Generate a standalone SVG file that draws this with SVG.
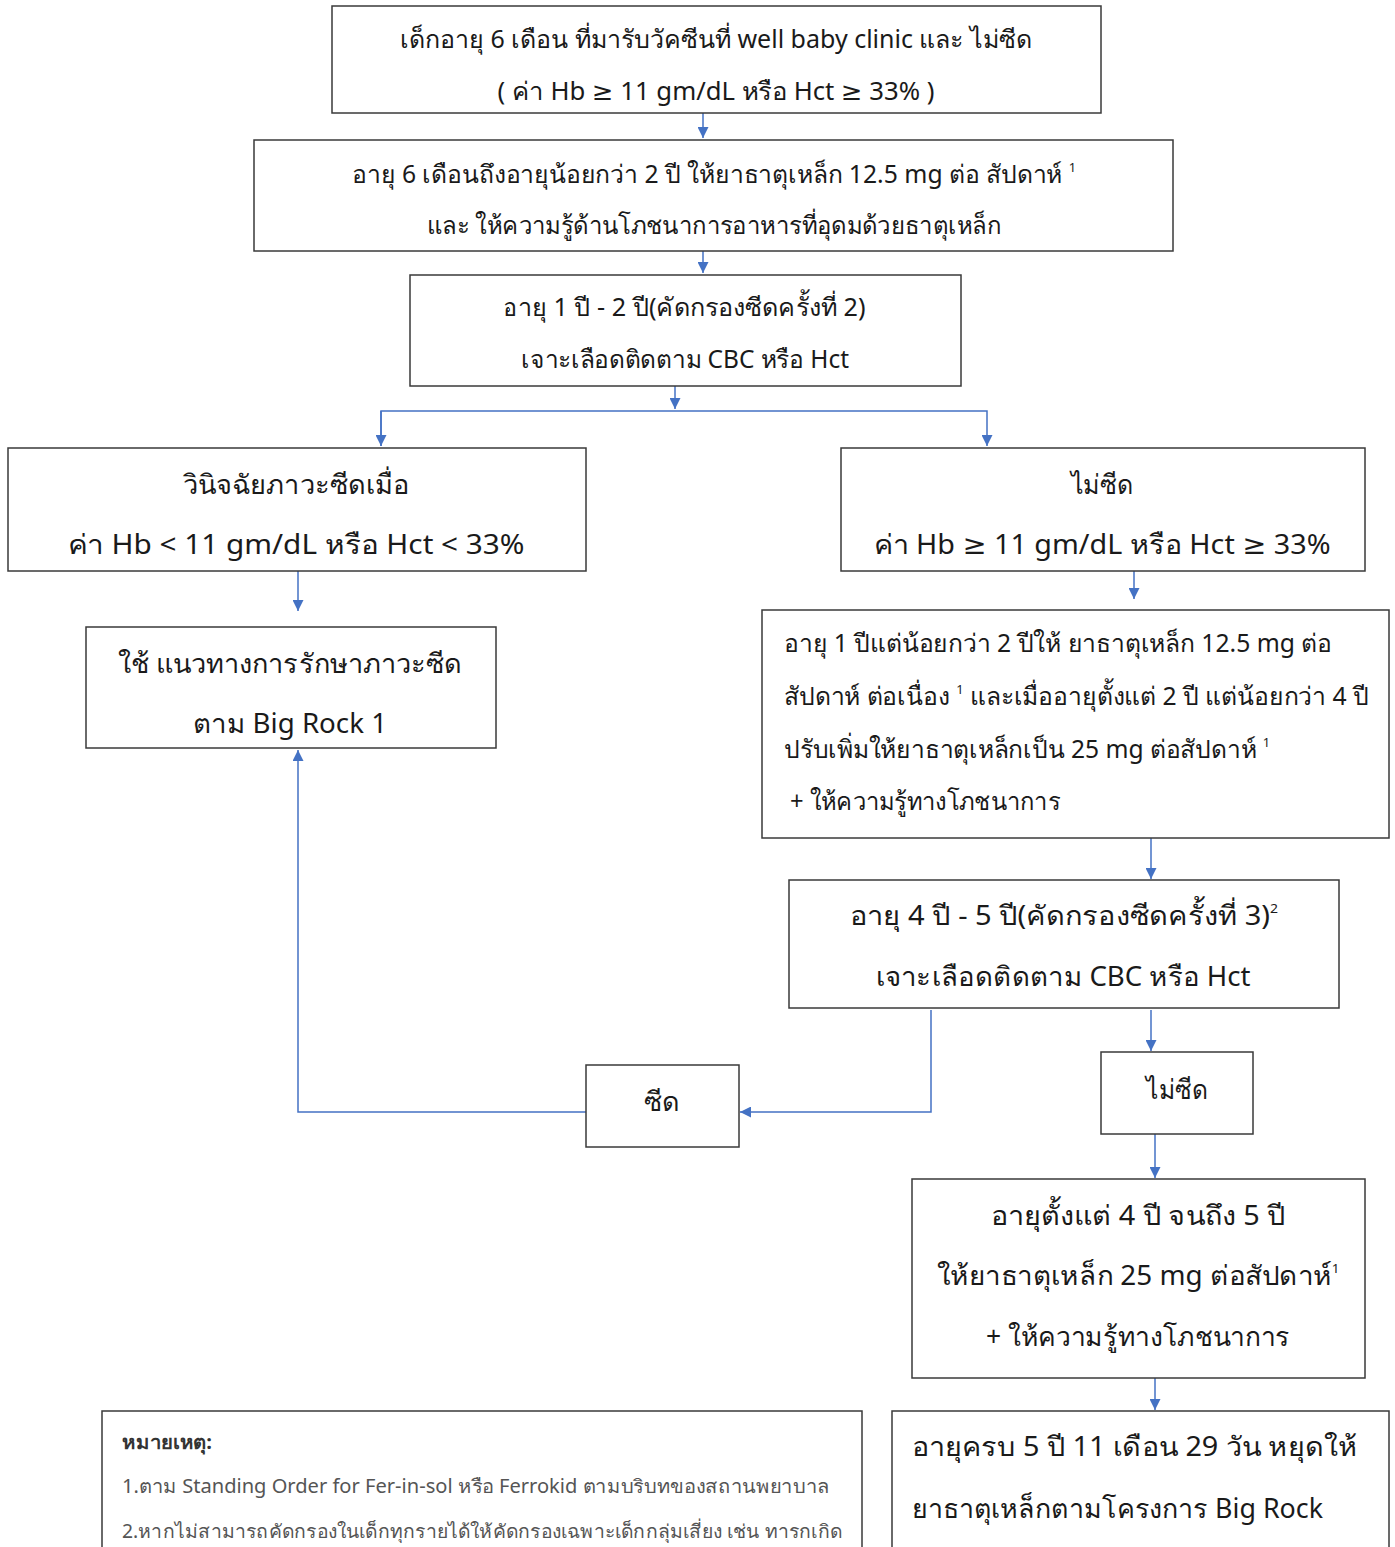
<svg xmlns="http://www.w3.org/2000/svg" width="1395" height="1547" viewBox="0 0 1395 1547">
<defs>
<style>
.box{fill:#fff;stroke:#3a3a3a;stroke-width:1.5}
.t{font-family:"Noto Sans","DejaVu Sans",sans-serif;font-size:25px;fill:#1a1a1a}
.tl{font-family:"Noto Sans","DejaVu Sans",sans-serif;font-size:27px;fill:#1a1a1a}
.c{text-anchor:middle}
.sup{font-size:13px}
.n{font-family:"Noto Sans","DejaVu Sans",sans-serif;font-size:19px;fill:#555}
.nb{font-weight:bold;fill:#333}
.con{fill:none;stroke:#4472C4;stroke-width:1.5}
</style>
<marker id="ah" viewBox="0 0 10 10" refX="10" refY="5" markerWidth="11" markerHeight="11" markerUnits="userSpaceOnUse" orient="auto">
<path d="M0,0 L10,5 L0,10 z" fill="#4472C4"/>
</marker>
</defs>
<rect width="1395" height="1547" fill="#fff"/>
<g id="connectors">
<path class="con" d="M703,113 V138" marker-end="url(#ah)"/>
<path class="con" d="M703,251 V273" marker-end="url(#ah)"/>
<path class="con" d="M675,386 V409" marker-end="url(#ah)"/>
<path class="con" d="M381,446 V411 H987 V446" marker-end="url(#ah)"/>
<path class="con" d="M381,411 V446" marker-end="url(#ah)"/>
<path class="con" d="M298,571 V611" marker-end="url(#ah)"/>
<path class="con" d="M1134,571 V599" marker-end="url(#ah)"/>
<path class="con" d="M1151,838 V879" marker-end="url(#ah)"/>
<path class="con" d="M1151,1010 V1051" marker-end="url(#ah)"/>
<path class="con" d="M931,1010 V1112 H740" marker-end="url(#ah)"/>
<path class="con" d="M586,1112 H298 V750" marker-end="url(#ah)"/>
<path class="con" d="M1155,1134 V1178" marker-end="url(#ah)"/>
<path class="con" d="M1155,1378 V1410" marker-end="url(#ah)"/>
</g>
<g id="n1">
<rect class="box" x="332" y="6" width="769" height="107"/>
<text class="t c" x="716" y="48" textLength="632" lengthAdjust="spacingAndGlyphs">เด็กอายุ 6 เดือน ที่มารับวัคซีนที่ well baby clinic และ ไม่ซีด</text>
<text class="t c" x="716" y="100" textLength="437" lengthAdjust="spacingAndGlyphs">( ค่า Hb ≥ 11 gm/dL หรือ Hct ≥ 33% )</text>
</g>
<g id="n2">
<rect class="box" x="254" y="140" width="919" height="111"/>
<text class="t c" x="714" y="183" textLength="724" lengthAdjust="spacingAndGlyphs">อายุ 6 เดือนถึงอายุน้อยกว่า 2 ปี ให้ยาธาตุเหล็ก 12.5 mg ต่อ สัปดาห์ <tspan class="sup" dy="-11">1</tspan></text>
<text class="t c" x="714" y="234" textLength="574" lengthAdjust="spacingAndGlyphs">และ  ให้ความรู้ด้านโภชนาการอาหารที่อุดมด้วยธาตุเหล็ก</text>
</g>
<g id="n3">
<rect class="box" x="410" y="275" width="551" height="111"/>
<text class="t c" x="684" y="316" textLength="363" lengthAdjust="spacingAndGlyphs">อายุ 1 ปี - 2 ปี(คัดกรองซีดครั้งที่ 2)</text>
<text class="t c" x="685" y="368" textLength="328" lengthAdjust="spacingAndGlyphs">เจาะเลือดติดตาม CBC หรือ Hct</text>
</g>
<g id="n4">
<rect class="box" x="8" y="448" width="578" height="123"/>
<text class="tl c" x="296" y="494" textLength="227" lengthAdjust="spacingAndGlyphs">วินิจฉัยภาวะซีดเมื่อ</text>
<text class="tl c" x="296" y="554" textLength="457" lengthAdjust="spacingAndGlyphs">ค่า Hb &lt; 11 gm/dL หรือ Hct &lt; 33%</text>
</g>
<g id="n5">
<rect class="box" x="841" y="448" width="524" height="123"/>
<text class="tl c" x="1102" y="494" textLength="63" lengthAdjust="spacingAndGlyphs">ไม่ซีด</text>
<text class="tl c" x="1102" y="554" textLength="457" lengthAdjust="spacingAndGlyphs">ค่า Hb ≥ 11 gm/dL หรือ Hct ≥ 33%</text>
</g>
<g id="n6">
<rect class="box" x="86" y="627" width="410" height="121"/>
<text class="tl c" x="290" y="673" textLength="345" lengthAdjust="spacingAndGlyphs">ใช้ แนวทางการรักษาภาวะซีด</text>
<text class="tl c" x="290" y="733" textLength="194" lengthAdjust="spacingAndGlyphs">ตาม Big Rock 1</text>
</g>
<g id="n7">
<rect class="box" x="762" y="610" width="627" height="228"/>
<text class="t" x="784" y="652" textLength="548" lengthAdjust="spacingAndGlyphs">อายุ 1 ปีแต่น้อยกว่า 2 ปีให้ ยาธาตุเหล็ก 12.5 mg ต่อ</text>
<text class="t" x="784" y="705" textLength="585" lengthAdjust="spacingAndGlyphs">สัปดาห์ ต่อเนื่อง <tspan class="sup" dy="-11">1</tspan><tspan dy="11"> และเมื่ออายุตั้งแต่ 2 ปี แต่น้อยกว่า 4 ปี</tspan></text>
<text class="t" x="784" y="758" textLength="486" lengthAdjust="spacingAndGlyphs">ปรับเพิ่มให้ยาธาตุเหล็กเป็น 25 mg ต่อสัปดาห์ <tspan class="sup" dy="-11">1</tspan></text>
<text class="t" x="790" y="810" textLength="270" lengthAdjust="spacingAndGlyphs">+ ให้ความรู้ทางโภชนาการ</text>
</g>
<g id="n8">
<rect class="box" x="789" y="880" width="550" height="128"/>
<text class="tl c" x="1064" y="925" textLength="428" lengthAdjust="spacingAndGlyphs">อายุ 4 ปี - 5 ปี(คัดกรองซีดครั้งที่ 3)<tspan class="sup" dy="-12">2</tspan></text>
<text class="tl c" x="1063" y="986" textLength="375" lengthAdjust="spacingAndGlyphs">เจาะเลือดติดตาม CBC หรือ Hct</text>
</g>
<g id="n9">
<rect class="box" x="1101" y="1052" width="152" height="82"/>
<text class="tl c" x="1177" y="1099" textLength="62" lengthAdjust="spacingAndGlyphs">ไม่ซีด</text>
</g>
<g id="n10">
<rect class="box" x="586" y="1065" width="153" height="82"/>
<text class="tl c" x="662" y="1111" textLength="36" lengthAdjust="spacingAndGlyphs">ซีด</text>
</g>
<g id="n11">
<rect class="box" x="912" y="1179" width="453" height="199"/>
<text class="tl c" x="1138" y="1225" textLength="295" lengthAdjust="spacingAndGlyphs">อายุตั้งแต่ 4 ปี จนถึง 5 ปี</text>
<text class="tl c" x="1138" y="1285" textLength="403" lengthAdjust="spacingAndGlyphs">ให้ยาธาตุเหล็ก 25 mg ต่อสัปดาห์<tspan class="sup" dy="-12">1</tspan></text>
<text class="tl c" x="1138" y="1346" textLength="304" lengthAdjust="spacingAndGlyphs">+ ให้ความรู้ทางโภชนาการ</text>
</g>
<g id="n12">
<rect class="box" x="892" y="1411" width="497" height="150"/>
<text class="tl" x="912" y="1456" textLength="445" lengthAdjust="spacingAndGlyphs">อายุครบ 5 ปี 11 เดือน 29 วัน หยุดให้</text>
<text class="tl" x="912" y="1518" textLength="411" lengthAdjust="spacingAndGlyphs">ยาธาตุเหล็กตามโครงการ Big Rock</text>
</g>
<g id="notes">
<rect class="box" x="102" y="1411" width="760" height="150"/>
<text class="n nb" x="122" y="1449" textLength="90" lengthAdjust="spacingAndGlyphs">หมายเหตุ:</text>
<text class="n" x="122" y="1493" textLength="708" lengthAdjust="spacingAndGlyphs">1.ตาม Standing Order for Fer-in-sol หรือ Ferrokid ตามบริบทของสถานพยาบาล</text>
<text class="n" x="122" y="1538" textLength="720" lengthAdjust="spacingAndGlyphs">2.หากไม่สามารถคัดกรองในเด็กทุกรายได้ให้คัดกรองเฉพาะเด็กกลุ่มเสี่ยง เช่น ทารกเกิด</text>
</g>
</svg>
